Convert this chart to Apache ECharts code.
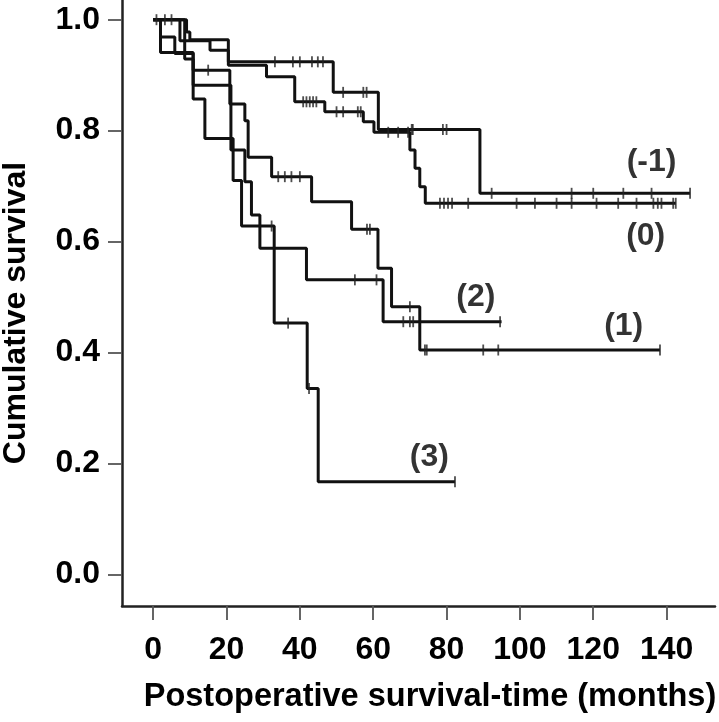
<!DOCTYPE html>
<html><head><meta charset="utf-8">
<script src="https://cdn.jsdelivr.net/npm/echarts@6/dist/echarts.min.js"></script>
<style>html,body{margin:0;padding:0;background:#fff}#c{width:719px;height:722px}</style>
</head><body><div id="c"></div>
<script>
// ---- data (months, cumulative survival) ----
const xTicks = [0, 20, 40, 60, 80, 100, 120, 140];
const yTicks = [0.0, 0.2, 0.4, 0.6, 0.8, 1.0];

const groupNames = ['(-1)', '(0)', '(1)', '(2)', '(3)'];

// step times (drop times, last = end of follow-up) and survival after each step
const timesM1 = [0, 9.1, 10.0, 20.5, 49.1, 61.4, 89.1, 146.4];
const survM1  = [1.0, 0.978, 0.964, 0.924, 0.869, 0.802, 0.687, 0.687];
const censM1  = [3.2, 5.0, 33.2, 38.1, 40.0, 43.3, 44.9, 46.3, 51.8, 57.3, 58.2, 70.5, 70.8, 79.0, 80.0, 92.3, 114.1, 120.0, 128.2, 135.9, 146.4];

const times0 = [0, 7.3, 15.5, 20.5, 30.9, 38.6, 46.8, 57.3, 60.2, 70.0, 71.4, 72.7, 74.2, 142.5];
const surv0  = [1.0, 0.962, 0.945, 0.918, 0.897, 0.852, 0.834, 0.816, 0.797, 0.765, 0.732, 0.699, 0.669, 0.669];
const cens0  = [0.9, 40.9, 41.8, 42.7, 43.6, 44.5, 50.0, 51.8, 55.8, 56.6, 64.1, 66.8, 69.5, 78.2, 79.3, 80.4, 81.5, 85.9, 99.1, 104.1, 110.0, 114.1, 120.9, 126.8, 131.8, 136.4, 137.6, 138.6, 141.8, 142.5];

const times1 = [0, 2.0, 5.9, 10.9, 20.9, 25.0, 25.9, 32.3, 43.2, 54.1, 61.3, 65.0, 72.7, 138.2];
const surv1  = [1.0, 0.969, 0.939, 0.909, 0.848, 0.818, 0.752, 0.717, 0.672, 0.622, 0.552, 0.4825, 0.4045, 0.4045];
const cens1  = [15.0, 34.1, 35.9, 37.7, 40.0, 58.3, 59.1, 70.0, 74.1, 74.6, 90.0, 94.1, 138.2];

const times2 = [0, 2.0, 10.9, 21.2, 25.0, 26.8, 29.1, 41.8, 62.7, 95.0];
const surv2  = [1.0, 0.941, 0.882, 0.765, 0.708, 0.648, 0.588, 0.531, 0.4555, 0.4555];
const cens2  = [55.0, 60.9, 68.2, 70.0, 70.9, 94.6];

const times3 = [0, 8.6, 10.9, 14.1, 21.8, 24.1, 33.0, 42.0, 45.0, 82.3];
const surv3  = [1.0, 0.929, 0.857, 0.786, 0.710, 0.628, 0.453, 0.335, 0.167, 0.167];
const cens3  = [32.3, 36.8, 42.5, 82.3];

// curve label anchors (months, survival)
const labelX = [135.9, 134.3, 128.3, 88.0, 75.3];
const labelY = [0.744, 0.609, 0.448, 0.5005, 0.212];

// ---- build ----
const curves = [
  [timesM1, survM1, censM1],
  [times0, surv0, cens0],
  [times1, surv1, cens1],
  [times2, surv2, cens2],
  [times3, surv3, cens3]
];
function stepAt(t, ts, vs) {
  let v = vs[0];
  for (let i = 0; i < ts.length; i++) { if (ts[i] <= t) v = vs[i]; }
  return v;
}
const FONT = '"Liberation Sans", Arial, sans-serif';
const series = [];
curves.forEach((c, k) => {
  series.push({
    type: 'line', name: groupNames[k], step: 'end', symbol: 'none',
    data: c[0].map((t, i) => [t, c[1][i]]),
    lineStyle: { color: '#111', width: 3 }, z: 3, animation: false
  });
  series.push({
    type: 'scatter', name: groupNames[k] + ' censored', symbol: 'rect', symbolSize: [1.8, 11],
    data: c[2].map(t => [t, stepAt(t, c[0], c[1])]),
    itemStyle: { color: '#222' }, z: 4, animation: false
  });
});
series.push({
  type: 'scatter', symbolSize: 0, animation: false,
  data: groupNames.map((n, i) => ({ value: [labelX[i], labelY[i]], name: n })),
  label: { show: true, position: 'inside', formatter: p => p.name, color: '#000',
           fontFamily: FONT, fontWeight: 'bold', fontSize: 32 }
});

const chart = echarts.init(document.getElementById('c'), null, { renderer: 'canvas' });
chart.setOption({
  animation: false,
  backgroundColor: '#fff',
  grid: { left: 122, right: 4, top: 0, bottom: 116 },
  xAxis: {
    type: 'value', min: -8.5, max: 153.2,
    axisLine: { onZero: false, lineStyle: { color: '#222', width: 2.5 } },
    axisTick: { customValues: xTicks, length: 14, lineStyle: { color: '#555', width: 1.8 } },
    axisLabel: { customValues: xTicks, margin: 28, color: '#000', fontFamily: FONT, fontWeight: 'bold', fontSize: 32 },
    splitLine: { show: false }
  },
  yAxis: {
    type: 'value', min: -0.057, max: 1.0355,
    axisLine: { onZero: false, lineStyle: { color: '#222', width: 2.5 } },
    axisTick: { customValues: yTicks, length: 14, lineStyle: { color: '#555', width: 1.8 } },
    axisLabel: { customValues: yTicks, margin: 22, color: '#000', fontFamily: FONT, fontWeight: 'bold', fontSize: 32,
                 formatter: v => v.toFixed(1) },
    splitLine: { show: false }
  },
  graphic: [
    { type: 'text', x: 430, y: 697, style: { text: 'Postoperative survival-time (months)', fill: '#000',
      font: 'bold 32.5px ' + FONT, align: 'center', verticalAlign: 'middle' } },
    { type: 'text', x: 16, y: 313, rotation: Math.PI / 2, style: { text: 'Cumulative survival', fill: '#000',
      font: 'bold 32px ' + FONT, align: 'center', verticalAlign: 'middle' } }
  ],
  series: series
});
</script></body></html>
